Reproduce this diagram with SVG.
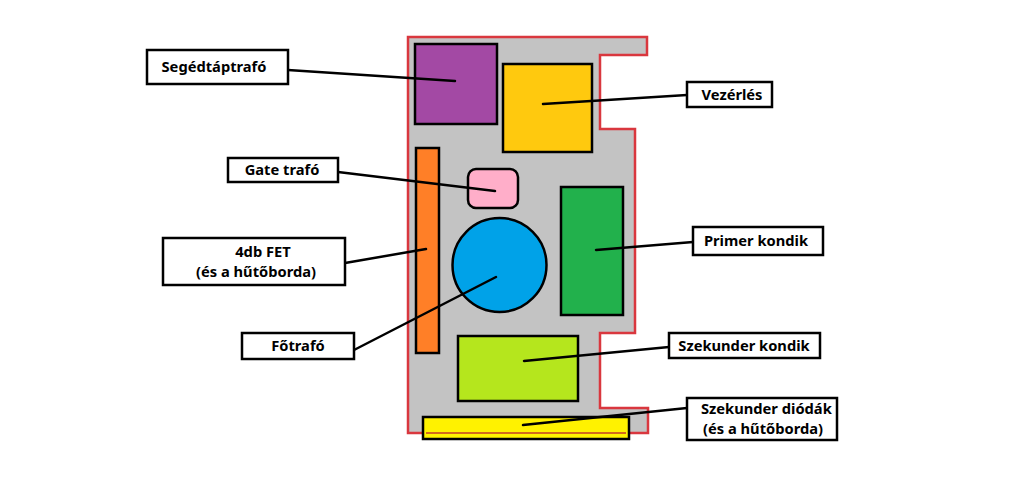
<svg xmlns="http://www.w3.org/2000/svg" width="1024" height="483" viewBox="0 0 1024 483">
<style>
.part{stroke:#000;stroke-width:2.5}
.lbl rect{fill:#fff;stroke:#000;stroke-width:2.5}
.lbl text{font-family:"Noto Sans","Open Sans",sans-serif;font-weight:bold;font-size:14.7px;fill:#000}
.conn line{stroke:#000;stroke-width:2.5;stroke-linecap:round}
</style>
<rect width="1024" height="483" fill="#fff"/>
<g id="board">
<path d="M408,37 L647,37 L647,55 L600,55 L600,129 L635,129 L635,333 L600,333 L600,408 L648,408 L648,433 L408,433 Z" fill="#c3c3c3" stroke="#d9373e" stroke-width="2.5"/>
</g>
<g id="segedtaptrafo-part"><rect class="part" x="415" y="44" width="82" height="80" fill="#a349a4"/></g>
<g id="vezerles-part"><rect class="part" x="503" y="64" width="89" height="88" fill="#ffc90e"/></g>
<g id="fet-part"><rect class="part" x="416" y="148" width="23" height="205" fill="#ff7f27"/></g>
<g id="gatetrafo-part"><rect class="part" x="468" y="169" width="50" height="39" rx="8" fill="#ffaec9"/></g>
<g id="fotrafo-part"><circle class="part" cx="499.5" cy="265" r="47" fill="#00a2e8"/></g>
<g id="primer-part"><rect class="part" x="561" y="187" width="62" height="128" fill="#22b14c"/></g>
<g id="szekunderkondik-part"><rect class="part" x="458" y="336" width="120" height="65" fill="#b5e61d"/></g>
<g id="diodak-part"><rect class="part" x="423" y="417" width="206" height="22" fill="#fff200"/><line x1="426" y1="433" x2="626" y2="433" stroke="#d2691e" stroke-width="2"/></g>
<g id="connectors" class="conn">
<line x1="288" y1="70" x2="455" y2="81"/>
<line x1="543" y1="104" x2="687" y2="95"/>
<line x1="338" y1="172" x2="495" y2="191"/>
<line x1="345" y1="263" x2="426" y2="249"/>
<line x1="354" y1="350" x2="496" y2="277"/>
<line x1="596" y1="250" x2="693" y2="242"/>
<line x1="524" y1="361" x2="669" y2="347"/>
<line x1="523" y1="425" x2="687" y2="408"/>
</g>
<g id="lbl-segedtaptrafo" class="lbl"><rect x="147" y="50" width="141" height="34"/><text x="214" y="72" text-anchor="middle">Segédtáptrafó</text></g>
<g id="lbl-vezerles" class="lbl"><rect x="687" y="82" width="85" height="25"/><text x="732" y="100" text-anchor="middle">Vezérlés</text></g>
<g id="lbl-gatetrafo" class="lbl"><rect x="228" y="158" width="110" height="24"/><text x="282" y="175" text-anchor="middle">Gate trafó</text></g>
<g id="lbl-fet" class="lbl"><rect x="163" y="238" width="182" height="47"/><text x="263" y="257" text-anchor="middle">4db FET</text><text x="256" y="277" text-anchor="middle">(és a hűtőborda)</text></g>
<g id="lbl-fotrafo" class="lbl"><rect x="242" y="333" width="112" height="26"/><text x="298" y="351" text-anchor="middle">Főtrafó</text></g>
<g id="lbl-primer" class="lbl"><rect x="693" y="227" width="130" height="28"/><text x="756" y="246" text-anchor="middle">Primer kondik</text></g>
<g id="lbl-szekunderkondik" class="lbl"><rect x="669" y="333" width="151" height="25"/><text x="744" y="351" text-anchor="middle">Szekunder kondik</text></g>
<g id="lbl-diodak" class="lbl"><rect x="687" y="398" width="150" height="42"/><text x="701" y="414">Szekunder diódák</text><text x="703" y="434">(és a hűtőborda)</text></g>
</svg>
